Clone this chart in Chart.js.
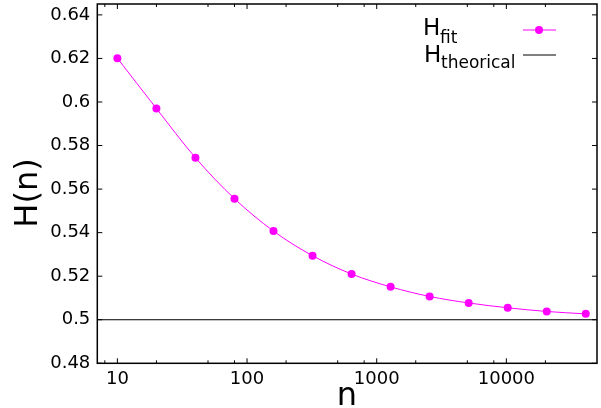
<!DOCTYPE html>
<html>
<head>
<meta charset="utf-8">
<script src="https://cdn.jsdelivr.net/npm/chart.js@4.4.0/dist/chart.umd.min.js"></script>
<style>
  html, body { margin: 0; padding: 0; background: #fff; }
  #wrap { width: 601px; height: 408px; }
</style>
</head>
<body>
<div id="wrap"><canvas id="chart"></canvas></div>
<script>
// data
const nValues = [10, 20, 40, 80, 160, 320, 640, 1280, 2560, 5120, 10240, 20480, 40960];
const hFit = [0.6201, 0.5970, 0.5744, 0.5556, 0.5407, 0.5294, 0.5210, 0.5151, 0.5107, 0.5077, 0.5055, 0.5038, 0.5027];
const theoryN = [7, 50000];
const hTheory = [0.5, 0.5];
const xMajorTicks = [10, 100, 1000, 10000];
const xMinorTicks = [8, 20, 50, 80, 200, 500, 800, 2000, 5000, 8000, 20000];
const yTicks = [0.48, 0.50, 0.52, 0.54, 0.56, 0.58, 0.60, 0.62, 0.64];

const FONT = 'DejaVu Sans';
const MAGENTA = '#ff00ff';

// frame box + inward tick marks on all four sides
const framePlugin = {
  id: 'frame',
  afterDraw(chart) {
    const { ctx, chartArea: a, scales: { x, y } } = chart;
    ctx.save();
    ctx.strokeStyle = '#000';
    ctx.lineWidth = 1;
    ctx.beginPath();
    xMajorTicks.forEach(v => {
      const px = x.getPixelForValue(v);
      ctx.moveTo(px, a.bottom); ctx.lineTo(px, a.bottom - 5);
      ctx.moveTo(px, a.top); ctx.lineTo(px, a.top + 5);
    });
    xMinorTicks.forEach(v => {
      const px = x.getPixelForValue(v);
      ctx.moveTo(px, a.bottom); ctx.lineTo(px, a.bottom - 3);
      ctx.moveTo(px, a.top); ctx.lineTo(px, a.top + 3);
    });
    yTicks.forEach(v => {
      const py = y.getPixelForValue(v);
      ctx.moveTo(a.left, py); ctx.lineTo(a.left + 5, py);
      ctx.moveTo(a.right, py); ctx.lineTo(a.right - 5, py);
    });
    ctx.stroke();
    ctx.lineWidth = 1.5;
    ctx.strokeRect(a.left, a.top, a.right - a.left, a.bottom - a.top);
    ctx.restore();
  }
};

// axis titles and the legend with subscripts
const labelPlugin = {
  id: 'labels',
  afterDraw(chart) {
    const ctx = chart.ctx;
    ctx.save();
    ctx.fillStyle = '#000';
    ctx.textBaseline = 'alphabetic';

    ctx.font = '32px "' + FONT + '"';
    ctx.textAlign = 'center';
    ctx.fillText('n', 347, 405);
    ctx.translate(37, 193);
    ctx.rotate(-Math.PI / 2);
    ctx.fillText('H(n)', 0, 0);
    ctx.restore();

    ctx.save();
    ctx.fillStyle = '#000';
    ctx.textAlign = 'left';
    ctx.textBaseline = 'alphabetic';
    ctx.font = '23px "' + FONT + '"';
    ctx.fillText('H', 423, 35);
    ctx.fillText('H', 424, 62);
    ctx.font = '17px "' + FONT + '"';
    ctx.fillText('fit', 440, 43);
    ctx.fillText('theorical', 441, 68);

    ctx.lineWidth = 1;
    ctx.strokeStyle = MAGENTA;
    ctx.beginPath(); ctx.moveTo(523, 30); ctx.lineTo(556, 30); ctx.stroke();
    ctx.fillStyle = MAGENTA;
    ctx.beginPath(); ctx.arc(539, 30, 4, 0, Math.PI * 2); ctx.fill();
    ctx.strokeStyle = '#000';
    ctx.beginPath(); ctx.moveTo(523, 55); ctx.lineTo(556, 55); ctx.stroke();
    ctx.restore();
  }
};

new Chart(document.getElementById('chart'), {
  type: 'line',
  data: {
    datasets: [
      {
        label: 'H_theorical',
        data: theoryN.map((n, i) => ({ x: n, y: hTheory[i] })),
        borderColor: '#000',
        borderWidth: 1,
        pointRadius: 0,
        fill: false
      },
      {
        label: 'H_fit',
        data: nValues.map((n, i) => ({ x: n, y: hFit[i] })),
        borderColor: MAGENTA,
        backgroundColor: MAGENTA,
        borderWidth: 1,
        pointRadius: 4,
        pointBorderWidth: 0,
        cubicInterpolationMode: 'monotone',
        fill: false
      }
    ]
  },
  options: {
    responsive: true,
    maintainAspectRatio: false,
    animation: false,
    layout: { padding: { top: 2, right: 4, left: 0, bottom: 0 } },
    plugins: { legend: { display: false }, tooltip: { enabled: false } },
    scales: {
      x: {
        type: 'logarithmic',
        min: 7,
        max: 50000,
        grid: { display: false, drawTicks: false },
        border: { display: false },
        afterBuildTicks: scale => { scale.ticks = xMajorTicks.map(v => ({ value: v })); },
        afterFit: scale => { scale.height = 44.7; scale.paddingLeft = 0; scale.paddingRight = 0; },
        ticks: {
          padding: 5,
          maxRotation: 0,
          autoSkip: false,
          color: '#000',
          font: { family: FONT, size: 18 },
          callback: v => String(v)
        }
      },
      y: {
        min: 0.48,
        max: 0.645,
        grid: { display: false, drawTicks: false },
        border: { display: false },
        afterBuildTicks: scale => { scale.ticks = yTicks.map(v => ({ value: v })); },
        afterFit: scale => { scale.width = 97.3; scale.paddingTop = 0; scale.paddingBottom = 0; },
        ticks: {
          padding: 7,
          color: '#000',
          font: { family: FONT, size: 18 },
          callback: v => String(parseFloat(v.toFixed(2)))
        }
      }
    }
  },
  plugins: [framePlugin, labelPlugin]
});
</script>
</body>
</html>
